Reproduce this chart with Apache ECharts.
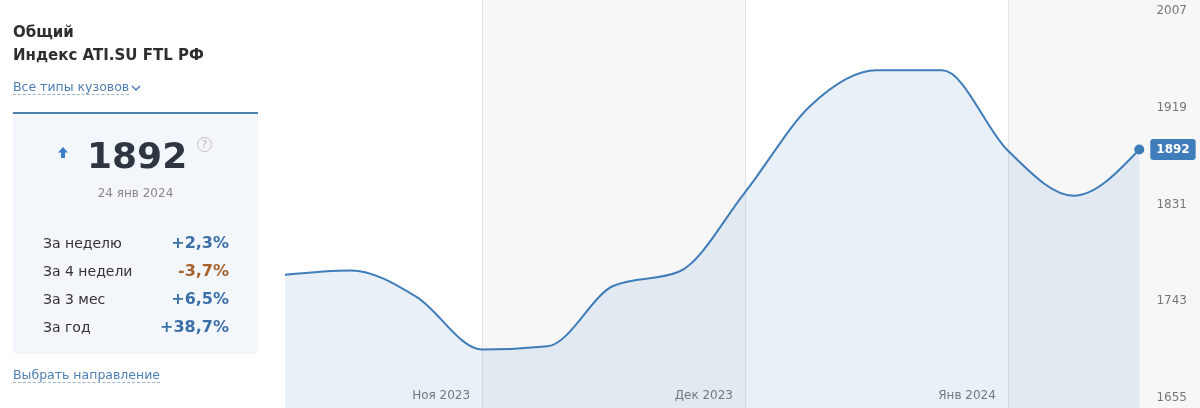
<!DOCTYPE html>
<html>
<head>
<meta charset="utf-8">
<script src="https://cdn.jsdelivr.net/npm/echarts@6/dist/echarts.min.js"></script>
<style>
html,body{margin:0;padding:0;background:#fff;}
body{width:1200px;height:408px;overflow:hidden;position:relative;font-family:Verdana,"DejaVu Sans",sans-serif;}
#chart{position:absolute;left:0;top:0;width:1205px;height:410px;}
.abs{position:absolute;white-space:nowrap;}
.title{left:13px;font-weight:bold;font-size:15px;line-height:18px;color:#2e2e2e;}
.link{left:13px;font-size:12.5px;line-height:14px;color:#4f80b4;text-decoration:underline dashed #9db3cb;text-underline-offset:3px;text-decoration-thickness:1px;}
#box{position:absolute;left:13px;top:112px;width:245px;height:240px;border-top:2px solid #4e80ab;background:#f3f7fb;border-radius:0 0 4px 4px;}
.row{left:43px;width:186px;font-size:14px;line-height:20px;color:#333;}
.row span{position:absolute;right:0;top:0;font-weight:bold;font-size:16px;}
.up{color:#3c6fa8;}
.down{color:#a5622c;}
</style>
</head>
<body>
<div id="chart"></div>
<div class="abs title" style="top:23px;">Общий</div>
<div class="abs title" style="top:46px;">Индекс ATI.SU FTL РФ</div>
<div class="abs link" style="top:80px;">Все типы кузовов</div>
<svg class="abs" style="left:131px;top:84px;" width="10" height="8"><polyline points="1,2 5,6 9,2" fill="none" stroke="#4f80b4" stroke-width="1.5"/></svg>
<div id="box"></div>
<svg class="abs" style="left:58px;top:147px;" width="10" height="11"><polygon points="5,0 10,5.5 7,5.5 7,11 3,11 3,5.5 0,5.5" fill="#3b7cc9"/></svg>
<div class="abs" id="bignum" style="left:87px;top:138px;font-size:36px;line-height:36px;font-weight:bold;color:#2e3642;"></div>
<div class="abs" style="left:197px;top:137px;width:13px;height:13px;border:1px solid #c2c2c2;border-radius:50%;font-size:10px;line-height:13px;text-align:center;color:#b5b5b5;">?</div>
<div class="abs" id="date" style="left:13px;width:245px;top:186px;font-size:12px;line-height:14px;color:#888;text-align:center;"></div>
<div id="rows"></div>
<div class="abs link" style="top:368px;">Выбрать направление</div>
<script>
// ---- data ----
const weekDates = ['25 окт 2023','1 ноя 2023','8 ноя 2023','15 ноя 2023','22 ноя 2023','29 ноя 2023','6 дек 2023','13 дек 2023','20 дек 2023','27 дек 2023','3 янв 2024','10 янв 2024','17 янв 2024','24 янв 2024',''];
const indexValues = [1778,1782,1758,1710,1713,1768,1781,1853,1932,1964,1964,1891,1850,1892];
const monthTickIndex = [3,7,11];
const monthTickLabels = ['Ноя 2023','Дек 2023','Янв 2024'];
const yMin = 1655, yMax = 2028, yStep = 88;
const currentValue = 1892;
const currentDate = '24 янв 2024';
const changeLabels = ['За неделю','За 4 недели','За 3 мес','За год'];
const changeValues = ['+2,3%','-3,7%','+6,5%','+38,7%'];

// ---- left panel ----
document.getElementById('bignum').textContent = currentValue;
document.getElementById('date').textContent = currentDate;
const rowTops = [233,261,289,317];
let html = '';
changeLabels.forEach((l,i)=>{
  const cls = changeValues[i].charAt(0)==='-' ? 'down' : 'up';
  html += '<div class="abs row" style="top:'+rowTops[i]+'px">'+l+'<span class="'+cls+'">'+changeValues[i]+'</span></div>';
});
document.getElementById('rows').innerHTML = html;

// ---- monotone cubic (monotoneX) path ----
function monotonePath(pts){
  const n = pts.length;
  const t = new Array(n).fill(0);
  const s = [];
  for (let i=0;i<n-1;i++) s.push((pts[i+1][1]-pts[i][1])/(pts[i+1][0]-pts[i][0]));
  for (let i=1;i<n-1;i++){
    const h0 = pts[i][0]-pts[i-1][0], h1 = pts[i+1][0]-pts[i][0];
    const s0 = s[i-1], s1 = s[i];
    const p = (s0*h1 + s1*h0)/(h0+h1);
    t[i] = (Math.sign(s0)+Math.sign(s1))*Math.min(Math.abs(s0),Math.abs(s1),0.5*Math.abs(p)) || 0;
  }
  t[0] = (3*s[0]-t[1])/2;
  t[n-1] = (3*s[n-2]-t[n-2])/2;
  let d = 'M'+pts[0][0]+','+pts[0][1];
  for (let i=0;i<n-1;i++){
    const dx = (pts[i+1][0]-pts[i][0])/3;
    d += 'C'+(pts[i][0]+dx)+','+(pts[i][1]+dx*t[i])+','+(pts[i+1][0]-dx)+','+(pts[i+1][1]-dx*t[i+1])+','+pts[i+1][0]+','+pts[i+1][1];
  }
  return d;
}

const chart = echarts.init(document.getElementById('chart'), null, {renderer:'canvas'});
const lineColor = '#3f7dba';
const fontFam = 'Verdana, "DejaVu Sans", sans-serif';
const lastIdx = indexValues.length-1;

chart.setOption({
  animation:false,
  grid:{left:285, right:0, top:0, bottom:0, containLabel:false},
  xAxis:{
    type:'category', data:weekDates, boundaryGap:false,
    axisLine:{show:false}, axisTick:{show:false},
    axisLabel:{
      show:true, inside:true, margin:8, align:'right', padding:[0,12,0,0],
      color:'#777', fontSize:12, fontFamily:fontFam,
      interval:(i)=>monthTickIndex.indexOf(i)>=0,
      formatter:(v,i)=>monthTickLabels[monthTickIndex.indexOf(i)] || ''
    },
    splitLine:{show:true, interval:(i)=>monthTickIndex.indexOf(i)>=0, lineStyle:{color:'#e4e4e4', width:1}},
    splitArea:{show:true, interval:(i)=>i===0||i===weekDates.length-1||monthTickIndex.indexOf(i)>=0, areaStyle:{color:['#ffffff','#f7f7f7']}}
  },
  yAxis:{
    type:'value', position:'right', min:yMin, max:yMax, interval:yStep,
    axisLine:{show:false}, axisTick:{show:false},
    axisLabel:{inside:true, margin:18, showMaxLabel:false, verticalAlign:'bottom', padding:[0,0,6,0], color:'#777', fontSize:12, fontFamily:fontFam, formatter:(v)=>String(v)},
    splitLine:{show:true, showMaxLine:false, lineStyle:{color:'#e4e4e4', width:1}}
  },
  series:[
    {
      type:'custom',
      data:indexValues.map((v,i)=>[i,v]),
      clip:true,
      renderItem:function(params, api){
        if (params.dataIndex !== 0) return null;
        const pts = indexValues.map((v,i)=>api.coord([i,v]));
        const d = monotonePath(pts);
        const baseY = api.coord([0,yMin])[1] + 5;
        const area = d + 'L'+pts[pts.length-1][0]+','+baseY+'L'+pts[0][0]+','+baseY+'Z';
        return {type:'group', children:[
          {type:'path', shape:{pathData:area}, style:{fill:'rgba(70,130,190,0.12)', stroke:null}},
          {type:'path', shape:{pathData:d}, style:{fill:null, stroke:lineColor, lineWidth:2}}
        ]};
      },
      z:2
    },
    {
      type:'scatter',
      data:[[lastIdx, indexValues[lastIdx]]],
      symbol:'circle', symbolSize:10,
      itemStyle:{color:lineColor, opacity:1},
      label:{
        show:true, position:'right', distance:6,
        formatter:(p)=>String(p.value[1]),
        backgroundColor:lineColor, borderRadius:3, padding:[5,6,4,6],
        color:'#fff', fontWeight:'bold', fontSize:12, fontFamily:fontFam
      },
      z:3
    }
  ]
});
</script>
</body>
</html>
